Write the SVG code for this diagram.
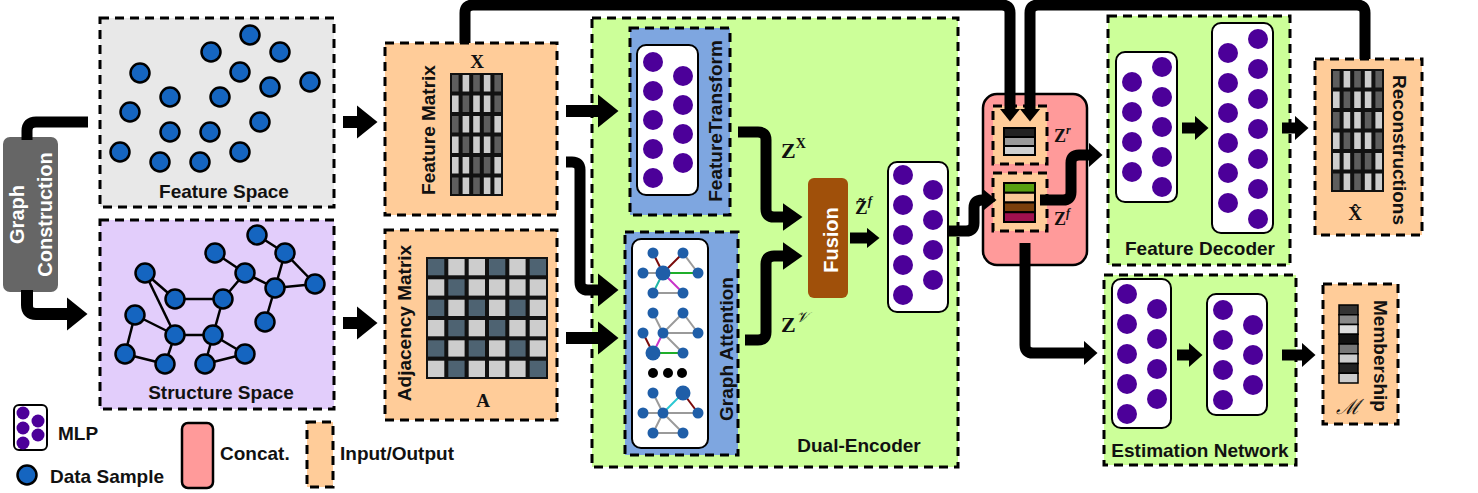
<svg xmlns="http://www.w3.org/2000/svg" width="1478" height="493" viewBox="0 0 1478 493">
<defs>
<style>
.dash{stroke:#000;stroke-width:3;stroke-dasharray:9 6}
.gray{fill:#e8e8e8}
.purp{fill:#e2cdfb}
.org{fill:#ffcc99}
.grn{fill:#ccff99}
.blu{fill:#7ea6e0}
.mlp{fill:#fff;stroke:#000;stroke-width:2}
.pd{fill:#4c0099}
.ds{fill:#1565c0;stroke:#000;stroke-width:2.5}
.lbl{font-family:"Liberation Sans",Arial,sans-serif;font-weight:bold;font-size:19px;fill:#111}
.wl{fill:#fff;font-size:20px}
.math{font-family:"Liberation Serif","Times New Roman",serif;font-weight:bold;fill:#111}
.cal{font-family:"DejaVu Serif","Liberation Serif",serif;font-style:italic;font-weight:normal}
.conn{fill:none;stroke:#000;stroke-width:11;stroke-linejoin:round}
.big{stroke-width:12}
.se{stroke:#000;stroke-width:2.5}
.ge{stroke-width:2}
.g{stroke:#9a9a9a}
.dr{stroke:#7a0a0a}
.gr{stroke:#1fae2a}
.tl{stroke:#1fb5a5}
.mg{stroke:#c832c8}
.cy{stroke:#2ac8d2}
.gn{fill:#1f5ea8}
.dk{fill:#5e5e5e}
.lt{fill:#cdcdcd}
.ad{fill:#4e6372}
</style>
<marker id="ahL" markerUnits="userSpaceOnUse" viewBox="0 0 21 34" markerWidth="21" markerHeight="34" refX="0.5" refY="17" orient="auto"><path d="M0,0 L21,17 L0,34 Z"/></marker>
<marker id="ahM" markerUnits="userSpaceOnUse" viewBox="0 0 20 28" markerWidth="20" markerHeight="28" refX="0.5" refY="14" orient="auto"><path d="M0,0 L20,14 L0,28 Z"/></marker>
<marker id="ahS" markerUnits="userSpaceOnUse" viewBox="0 0 14 25" markerWidth="14" markerHeight="25" refX="0.5" refY="12.5" orient="auto"><path d="M0,0 L14,12.5 L0,25 Z"/></marker>
<marker id="ahT" markerUnits="userSpaceOnUse" viewBox="0 0 13 21" markerWidth="13" markerHeight="21" refX="0.5" refY="10.5" orient="auto"><path d="M0,0 L13,10.5 L0,21 Z"/></marker>
<g id="fm">
<rect x="0" y="0" width="53" height="123" fill="#111"/>
<rect class="dk" x="2" y="2" width="6.6" height="16.5"/><rect class="lt" x="12.6" y="2" width="6.6" height="16.5"/><rect class="dk" x="23.2" y="2" width="6.6" height="16.5"/><rect class="lt" x="33.8" y="2" width="6.6" height="16.5"/><rect class="dk" x="44.4" y="2" width="6.6" height="16.5"/>
<rect class="lt" x="2" y="22.5" width="6.6" height="16.5"/><rect class="dk" x="12.6" y="22.5" width="6.6" height="16.5"/><rect class="lt" x="23.2" y="22.5" width="6.6" height="16.5"/><rect class="lt" x="33.8" y="22.5" width="6.6" height="16.5"/><rect class="dk" x="44.4" y="22.5" width="6.6" height="16.5"/>
<rect class="dk" x="2" y="43" width="6.6" height="16.5"/><rect class="lt" x="12.6" y="43" width="6.6" height="16.5"/><rect class="lt" x="23.2" y="43" width="6.6" height="16.5"/><rect class="dk" x="33.8" y="43" width="6.6" height="16.5"/><rect class="lt" x="44.4" y="43" width="6.6" height="16.5"/>
<rect class="lt" x="2" y="63.5" width="6.6" height="16.5"/><rect class="dk" x="12.6" y="63.5" width="6.6" height="16.5"/><rect class="lt" x="23.2" y="63.5" width="6.6" height="16.5"/><rect class="lt" x="33.8" y="63.5" width="6.6" height="16.5"/><rect class="dk" x="44.4" y="63.5" width="6.6" height="16.5"/>
<rect class="lt" x="2" y="84" width="6.6" height="16.5"/><rect class="lt" x="12.6" y="84" width="6.6" height="16.5"/><rect class="dk" x="23.2" y="84" width="6.6" height="16.5"/><rect class="dk" x="33.8" y="84" width="6.6" height="16.5"/><rect class="lt" x="44.4" y="84" width="6.6" height="16.5"/>
<rect class="dk" x="2" y="104.5" width="6.6" height="16.5"/><rect class="lt" x="12.6" y="104.5" width="6.6" height="16.5"/><rect class="dk" x="23.2" y="104.5" width="6.6" height="16.5"/><rect class="lt" x="33.8" y="104.5" width="6.6" height="16.5"/><rect class="lt" x="44.4" y="104.5" width="6.6" height="16.5"/>
</g>
</defs>
<rect width="1478" height="493" fill="#fff"/>

<g id="graph-construction">
<rect x="3" y="137" width="55" height="155" rx="7" fill="#666"/>
<g transform="translate(30.5,214.5) rotate(-90)">
<text class="lbl wl" x="0" y="-7" text-anchor="middle">Graph</text>
<text class="lbl wl" x="0" y="21" text-anchor="middle">Construction</text>
</g>
</g>

<g id="feature-space">
<rect class="gray dash" x="100" y="18" width="234" height="189"/>
<circle class="ds" cx="250" cy="35" r="9.5"/><circle class="ds" cx="211" cy="52" r="9.5"/><circle class="ds" cx="280" cy="52" r="9.5"/>
<circle class="ds" cx="140" cy="73" r="9.5"/><circle class="ds" cx="240" cy="72" r="9.5"/><circle class="ds" cx="310" cy="82" r="9.5"/>
<circle class="ds" cx="270" cy="87" r="9.5"/><circle class="ds" cx="170" cy="97" r="9.5"/><circle class="ds" cx="220" cy="97" r="9.5"/>
<circle class="ds" cx="130" cy="112" r="9.5"/><circle class="ds" cx="260" cy="122" r="9.5"/><circle class="ds" cx="170" cy="132" r="9.5"/>
<circle class="ds" cx="210" cy="132" r="9.5"/><circle class="ds" cx="120" cy="152" r="9.5"/><circle class="ds" cx="240" cy="152" r="9.5"/>
<circle class="ds" cx="160" cy="162" r="9.5"/><circle class="ds" cx="200" cy="162" r="9.5"/>
<text class="lbl" x="224" y="198" text-anchor="middle">Feature Space</text>
</g>

<g id="structure-space">
<rect class="purp dash" x="100" y="220" width="234" height="189"/>
<g class="se">
<line x1="257" y1="235" x2="285" y2="253"/><line x1="285" y1="253" x2="275" y2="288"/><line x1="285" y1="253" x2="315" y2="284"/>
<line x1="245" y1="273" x2="275" y2="288"/><line x1="215" y1="253" x2="245" y2="273"/><line x1="245" y1="273" x2="223" y2="299"/>
<line x1="275" y1="288" x2="315" y2="284"/><line x1="275" y1="288" x2="265" y2="322"/><line x1="145" y1="273" x2="175" y2="299"/>
<line x1="175" y1="299" x2="223" y2="299"/><line x1="223" y1="299" x2="213" y2="335"/><line x1="145" y1="273" x2="175" y2="335"/>
<line x1="135" y1="315" x2="175" y2="335"/><line x1="135" y1="315" x2="125" y2="354"/><line x1="125" y1="354" x2="165" y2="364"/>
<line x1="175" y1="335" x2="213" y2="335"/><line x1="175" y1="335" x2="165" y2="364"/><line x1="213" y1="335" x2="205" y2="364"/>
<line x1="213" y1="335" x2="245" y2="354"/><line x1="205" y1="364" x2="245" y2="354"/>
</g>
<circle class="ds" cx="257" cy="235" r="9.5"/><circle class="ds" cx="285" cy="253" r="9.5"/><circle class="ds" cx="215" cy="253" r="9.5"/>
<circle class="ds" cx="245" cy="273" r="9.5"/><circle class="ds" cx="145" cy="273" r="9.5"/><circle class="ds" cx="275" cy="288" r="9.5"/>
<circle class="ds" cx="315" cy="284" r="9.5"/><circle class="ds" cx="175" cy="299" r="9.5"/><circle class="ds" cx="223" cy="299" r="9.5"/>
<circle class="ds" cx="135" cy="315" r="9.5"/><circle class="ds" cx="265" cy="322" r="9.5"/><circle class="ds" cx="175" cy="335" r="9.5"/>
<circle class="ds" cx="213" cy="335" r="9.5"/><circle class="ds" cx="245" cy="354" r="9.5"/><circle class="ds" cx="125" cy="354" r="9.5"/>
<circle class="ds" cx="165" cy="364" r="9.5"/><circle class="ds" cx="205" cy="364" r="9.5"/>
<text class="lbl" x="221" y="399" text-anchor="middle">Structure Space</text>
</g>

<g id="feature-matrix">
<rect class="org dash" x="385" y="43" width="172" height="172"/>
<text class="math" x="477" y="68" font-size="19" text-anchor="middle">X</text>
<use href="#fm" x="450" y="73"/>
<text class="lbl" transform="translate(435,130) rotate(-90)" text-anchor="middle">Feature Matrix</text>
</g>

<g id="adjacency-matrix">
<rect class="org dash" x="385" y="230" width="172" height="190"/>
<g transform="translate(426,257)">
<rect x="0" y="0" width="122" height="122" fill="#111"/>
<rect class="ad" x="2" y="2" width="16.3" height="16.3"/><rect class="lt" x="22.3" y="2" width="16.3" height="16.3"/><rect class="lt" x="42.7" y="2" width="16.3" height="16.3"/><rect class="ad" x="63" y="2" width="16.3" height="16.3"/><rect class="lt" x="83.3" y="2" width="16.3" height="16.3"/><rect class="ad" x="103.7" y="2" width="16.3" height="16.3"/>
<rect class="lt" x="2" y="22.3" width="16.3" height="16.3"/><rect class="ad" x="22.3" y="22.3" width="16.3" height="16.3"/><rect class="lt" x="42.7" y="22.3" width="16.3" height="16.3"/><rect class="lt" x="63" y="22.3" width="16.3" height="16.3"/><rect class="lt" x="83.3" y="22.3" width="16.3" height="16.3"/><rect class="lt" x="103.7" y="22.3" width="16.3" height="16.3"/>
<rect class="ad" x="2" y="42.7" width="16.3" height="16.3"/><rect class="lt" x="22.3" y="42.7" width="16.3" height="16.3"/><rect class="ad" x="42.7" y="42.7" width="16.3" height="16.3"/><rect class="lt" x="63" y="42.7" width="16.3" height="16.3"/><rect class="ad" x="83.3" y="42.7" width="16.3" height="16.3"/><rect class="lt" x="103.7" y="42.7" width="16.3" height="16.3"/>
<rect class="lt" x="2" y="63" width="16.3" height="16.3"/><rect class="ad" x="22.3" y="63" width="16.3" height="16.3"/><rect class="lt" x="42.7" y="63" width="16.3" height="16.3"/><rect class="ad" x="63" y="63" width="16.3" height="16.3"/><rect class="lt" x="83.3" y="63" width="16.3" height="16.3"/><rect class="lt" x="103.7" y="63" width="16.3" height="16.3"/>
<rect class="ad" x="2" y="83.3" width="16.3" height="16.3"/><rect class="lt" x="22.3" y="83.3" width="16.3" height="16.3"/><rect class="ad" x="42.7" y="83.3" width="16.3" height="16.3"/><rect class="lt" x="63" y="83.3" width="16.3" height="16.3"/><rect class="ad" x="83.3" y="83.3" width="16.3" height="16.3"/><rect class="lt" x="103.7" y="83.3" width="16.3" height="16.3"/>
<rect class="lt" x="2" y="103.7" width="16.3" height="16.3"/><rect class="ad" x="22.3" y="103.7" width="16.3" height="16.3"/><rect class="lt" x="42.7" y="103.7" width="16.3" height="16.3"/><rect class="lt" x="63" y="103.7" width="16.3" height="16.3"/><rect class="lt" x="83.3" y="103.7" width="16.3" height="16.3"/><rect class="ad" x="103.7" y="103.7" width="16.3" height="16.3"/>
</g>
<text class="math" x="483" y="407" font-size="19" text-anchor="middle">A</text>
<text class="lbl" transform="translate(411,323) rotate(-90)" text-anchor="middle">Adjacency Matrix</text>
</g>

<g id="dual-encoder">
<rect class="grn dash" x="592" y="18" width="366" height="449"/>
<text class="lbl" x="859" y="452" text-anchor="middle">Dual-Encoder</text>
</g>

<g id="feature-transform">
<rect class="blu dash" x="630" y="28" width="100" height="187"/>
<rect class="mlp" x="637" y="45" width="61" height="150" rx="9"/>
<circle class="pd" cx="653" cy="62" r="10"/><circle class="pd" cx="653" cy="91" r="10"/><circle class="pd" cx="653" cy="120" r="10"/><circle class="pd" cx="653" cy="149" r="10"/><circle class="pd" cx="653" cy="178" r="10"/>
<circle class="pd" cx="683" cy="76" r="10"/><circle class="pd" cx="683" cy="105" r="10"/><circle class="pd" cx="683" cy="134" r="10"/><circle class="pd" cx="683" cy="163" r="10"/>
<text class="lbl" transform="translate(722,121) rotate(-90)" text-anchor="middle" font-size="19.5">FeatureTransform</text>
</g>

<g id="graph-attention">
<rect class="blu dash" x="625" y="232" width="113" height="223"/>
<rect class="mlp" x="632" y="239" width="76" height="209" rx="9"/>
<g class="ge">
<line class="dr" x1="653" y1="253" x2="663" y2="273"/><line class="dr" x1="683" y1="253" x2="663" y2="273"/><line class="g" x1="683" y1="253" x2="698" y2="273"/>
<line class="g" x1="643" y1="273" x2="663" y2="273"/><line class="gr" x1="663" y1="273" x2="698" y2="273"/><line class="tl" x1="663" y1="273" x2="653" y2="293"/>
<line class="mg" x1="663" y1="273" x2="683" y2="293"/><line class="g" x1="653" y1="293" x2="683" y2="293"/>
<line class="g" x1="653" y1="313" x2="663" y2="333"/><line class="g" x1="683" y1="313" x2="663" y2="333"/><line class="g" x1="683" y1="313" x2="698" y2="333"/>
<line class="g" x1="663" y1="333" x2="698" y2="333"/><line class="dr" x1="643" y1="333" x2="653" y2="353"/><line class="mg" x1="663" y1="333" x2="653" y2="353"/>
<line class="g" x1="663" y1="333" x2="683" y2="353"/><line class="gr" x1="653" y1="353" x2="683" y2="353"/>
<line class="g" x1="653" y1="393" x2="663" y2="413"/><line class="cy" x1="683" y1="393" x2="663" y2="413"/><line class="dr" x1="683" y1="393" x2="698" y2="413"/>
<line class="g" x1="643" y1="413" x2="663" y2="413"/><line class="g" x1="663" y1="413" x2="698" y2="413"/><line class="g" x1="663" y1="413" x2="653" y2="433"/>
<line class="g" x1="663" y1="413" x2="683" y2="433"/><line class="g" x1="653" y1="433" x2="683" y2="433"/>
</g>
<g class="gn">
<circle cx="653" cy="253" r="5.5"/><circle cx="683" cy="253" r="5.5"/><circle cx="643" cy="273" r="5.5"/><circle cx="663" cy="273" r="7.5"/><circle cx="698" cy="273" r="5.5"/><circle cx="653" cy="293" r="5.5"/><circle cx="683" cy="293" r="5.5"/>
<circle cx="653" cy="313" r="5.5"/><circle cx="683" cy="313" r="5.5"/><circle cx="643" cy="333" r="5.5"/><circle cx="663" cy="333" r="5.5"/><circle cx="698" cy="333" r="5.5"/><circle cx="653" cy="353" r="7.5"/><circle cx="683" cy="353" r="5.5"/>
<circle cx="653" cy="393" r="5.5"/><circle cx="683" cy="393" r="7.5"/><circle cx="643" cy="413" r="5.5"/><circle cx="663" cy="413" r="5.5"/><circle cx="698" cy="413" r="5.5"/><circle cx="653" cy="433" r="5.5"/><circle cx="683" cy="433" r="5.5"/>
</g>
<circle cx="653" cy="373" r="5" fill="#000"/><circle cx="668" cy="373" r="5" fill="#000"/><circle cx="682" cy="373" r="5" fill="#000"/>
<text class="lbl" transform="translate(733,349) rotate(-90)" text-anchor="middle">Graph Attention</text>
</g>

<g id="fusion">
<rect x="808" y="178" width="40" height="120" rx="6" fill="#a0500a"/>
<text class="lbl wl" transform="translate(838,240) rotate(-90)" text-anchor="middle">Fusion</text>
</g>

<g id="labels-encoder">
<text class="math" x="781" y="158" font-size="22">Z<tspan font-size="14" dy="-10">X</tspan></text>
<text class="math" x="781" y="332" font-size="22">Z<tspan class="cal" font-size="15" dy="-10">𝒱</tspan></text>
<text class="math" x="855" y="214" font-size="19">Z̃<tspan font-size="13" font-style="italic" dy="-9">f</tspan></text>
</g>

<g id="fused-mlp">
<rect class="mlp" x="888" y="162" width="60" height="150" rx="9"/>
<circle class="pd" cx="903" cy="175" r="10"/><circle class="pd" cx="903" cy="205" r="10"/><circle class="pd" cx="903" cy="235" r="10"/><circle class="pd" cx="903" cy="265" r="10"/><circle class="pd" cx="903" cy="295" r="10"/>
<circle class="pd" cx="933" cy="190" r="10"/><circle class="pd" cx="933" cy="220" r="10"/><circle class="pd" cx="933" cy="250" r="10"/><circle class="pd" cx="933" cy="280" r="10"/>
</g>

<g id="concat">
<rect x="983" y="94" width="104" height="171" rx="14" fill="#ff9a9a" stroke="#000" stroke-width="2.5"/>
<rect class="org dash" x="993" y="106" width="54" height="58"/>
<rect class="org dash" x="993" y="173" width="54" height="58"/>
<g stroke="#000" stroke-width="2">
<rect x="1004" y="128" width="31" height="9" fill="#222"/>
<rect x="1004" y="137" width="31" height="9" fill="#9a9a9a"/>
<rect x="1004" y="146" width="31" height="9" fill="#d0d0d0"/>
<rect x="1004" y="183" width="31" height="9.75" fill="#58a010"/>
<rect x="1004" y="192.75" width="31" height="9.75" fill="#f9c897"/>
<rect x="1004" y="202.5" width="31" height="9.75" fill="#7b3f0c"/>
<rect x="1004" y="212.25" width="31" height="9.75" fill="#a0104e"/>
</g>
<text class="math" x="1054" y="142" font-size="18">Z<tspan font-size="12" font-style="italic" dy="-8">r</tspan></text>
<text class="math" x="1054" y="225" font-size="18">Z<tspan font-size="12" font-style="italic" dy="-8">f</tspan></text>
</g>

<g id="feature-decoder">
<rect class="grn dash" x="1108" y="16" width="182" height="249"/>
<rect class="mlp" x="1116" y="52" width="61" height="150" rx="9"/>
<circle class="pd" cx="1132" cy="82" r="10"/><circle class="pd" cx="1132" cy="112" r="10"/><circle class="pd" cx="1132" cy="142" r="10"/><circle class="pd" cx="1132" cy="172" r="10"/>
<circle class="pd" cx="1162" cy="67" r="10"/><circle class="pd" cx="1162" cy="97" r="10"/><circle class="pd" cx="1162" cy="127" r="10"/><circle class="pd" cx="1162" cy="157" r="10"/><circle class="pd" cx="1162" cy="187" r="10"/>
<rect class="mlp" x="1212" y="23" width="61" height="210" rx="9"/>
<circle class="pd" cx="1228" cy="53" r="10"/><circle class="pd" cx="1228" cy="83" r="10"/><circle class="pd" cx="1228" cy="113" r="10"/><circle class="pd" cx="1228" cy="143" r="10"/><circle class="pd" cx="1228" cy="173" r="10"/><circle class="pd" cx="1228" cy="203" r="10"/>
<circle class="pd" cx="1258" cy="39" r="10"/><circle class="pd" cx="1258" cy="69" r="10"/><circle class="pd" cx="1258" cy="99" r="10"/><circle class="pd" cx="1258" cy="129" r="10"/><circle class="pd" cx="1258" cy="159" r="10"/><circle class="pd" cx="1258" cy="189" r="10"/><circle class="pd" cx="1258" cy="219" r="10"/>
<text class="lbl" x="1200" y="255" text-anchor="middle" font-size="19.5">Feature Decoder</text>
</g>

<g id="reconstructions">
<rect class="org dash" x="1315" y="59" width="107" height="176"/>
<use href="#fm" x="1331" y="69"/>
<text class="math" x="1355" y="220" font-size="19" text-anchor="middle">X̂</text>
<text class="lbl" transform="translate(1393,150) rotate(90)" text-anchor="middle" font-size="20">Reconstructions</text>
</g>

<g id="estimation-network">
<rect class="grn dash" x="1104" y="275" width="192" height="190"/>
<rect class="mlp" x="1112" y="279" width="59" height="149" rx="9"/>
<circle class="pd" cx="1127" cy="294" r="10"/><circle class="pd" cx="1127" cy="324" r="10"/><circle class="pd" cx="1127" cy="354" r="10"/><circle class="pd" cx="1127" cy="384" r="10"/><circle class="pd" cx="1127" cy="414" r="10"/>
<circle class="pd" cx="1157" cy="309" r="10"/><circle class="pd" cx="1157" cy="339" r="10"/><circle class="pd" cx="1157" cy="369" r="10"/><circle class="pd" cx="1157" cy="399" r="10"/>
<rect class="mlp" x="1207" y="294" width="60" height="121" rx="9"/>
<circle class="pd" cx="1223" cy="310" r="10"/><circle class="pd" cx="1223" cy="340" r="10"/><circle class="pd" cx="1223" cy="370" r="10"/><circle class="pd" cx="1223" cy="400" r="10"/>
<circle class="pd" cx="1253" cy="325" r="10"/><circle class="pd" cx="1253" cy="355" r="10"/><circle class="pd" cx="1253" cy="385" r="10"/>
<text class="lbl" x="1200" y="457" text-anchor="middle" font-size="18">Estimation Network</text>
</g>

<g id="membership">
<rect class="org dash" x="1323" y="284" width="75" height="140"/>
<g stroke="#000" stroke-width="1.5">
<rect x="1339" y="305" width="19" height="9.75" fill="#333"/>
<rect x="1339" y="314.75" width="19" height="9.75" fill="#888"/>
<rect x="1339" y="324.5" width="19" height="9.75" fill="#ddd"/>
<rect x="1339" y="334.25" width="19" height="9.75" fill="#111"/>
<rect x="1339" y="344" width="19" height="9.75" fill="#777"/>
<rect x="1339" y="353.75" width="19" height="9.75" fill="#ccc"/>
<rect x="1339" y="363.5" width="19" height="9.75" fill="#222"/>
<rect x="1339" y="373.25" width="19" height="9.75" fill="#ccc"/>
</g>
<text class="math cal" x="1348" y="414" font-size="21" text-anchor="middle">ℳ</text>
<text class="lbl" transform="translate(1374,356) rotate(90)" text-anchor="middle">Membership</text>
</g>

<g id="legend">
<rect class="mlp" x="14" y="405" width="33" height="45" rx="5"/>
<circle class="pd" cx="23" cy="413" r="6.5"/><circle class="pd" cx="38" cy="421" r="6.5"/><circle class="pd" cx="23" cy="428" r="6.5"/><circle class="pd" cx="38" cy="435" r="6.5"/><circle class="pd" cx="23" cy="443" r="6.5"/>
<text class="lbl" x="58" y="440">MLP</text>
<circle class="ds" cx="27" cy="475" r="9.5"/>
<text class="lbl" x="50" y="483">Data Sample</text>
<rect x="182" y="423" width="31" height="65" rx="6" fill="#ff9a9a" stroke="#000" stroke-width="2.5"/>
<text class="lbl" x="220" y="460">Concat.</text>
<rect class="org dash" x="307" y="422" width="26" height="65"/>
<text class="lbl" x="340" y="460">Input/Output</text>
</g>

<g id="connectors">
<path class="conn" d="M27,140 L27,131 Q27,122 36,122 L88,122"/>
<path class="conn big" d="M27,290 L27,305 Q27,314 36,314 L67,314" marker-end="url(#ahL)"/>
<path class="conn big" d="M343,122 L357,122" marker-end="url(#ahL)"/>
<path class="conn big" d="M343,323 L357,323" marker-end="url(#ahL)"/>
<path class="conn big" d="M566,111 L598,111" marker-end="url(#ahL)"/>
<path class="conn" d="M566,162 L572,162 Q580,162 580,170 L580,282 Q580,290 588,290 L598,290" marker-end="url(#ahL)"/>
<path class="conn big" d="M566,338 L598,338" marker-end="url(#ahL)"/>
<path class="conn" d="M738,132 L758,132 Q766,132 766,140 L766,209 Q766,217 774,217 L783,217" marker-end="url(#ahM)"/>
<path class="conn" d="M745,340 L758,340 Q766,340 766,332 L766,264 Q766,256 774,256 L783,256" marker-end="url(#ahM)"/>
<path class="conn" d="M850,238 L867,238" marker-end="url(#ahT)"/>
<path class="conn" d="M948,231 L966,231 Q974,231 974,223 L974,208 Q974,200 982,200 L984,200" marker-end="url(#ahT)"/>
<path class="conn" d="M465,43 L465,13 Q465,5 473,5 L1002,5 Q1010,5 1010,13 L1010,109" marker-end="url(#ahT)"/>
<path class="conn" d="M1365,59 L1365,13 Q1365,5 1357,5 L1038,5 Q1030,5 1030,13 L1030,109" marker-end="url(#ahT)"/>
<path class="conn" d="M1040,200 L1063,200 Q1071,200 1071,192 L1071,163 Q1071,155 1079,155 L1089,155" marker-end="url(#ahS)"/>
<path class="conn" d="M1025,243 L1025,345 Q1025,353 1033,353 L1084,353" marker-end="url(#ahS)"/>
<path class="conn" d="M1182,128 L1195,128" marker-end="url(#ahS)"/>
<path class="conn" d="M1282,128 L1295,128" marker-end="url(#ahS)"/>
<path class="conn" d="M1177,355 L1189,355" marker-end="url(#ahS)"/>
<path class="conn" d="M1282,355 L1302,355" marker-end="url(#ahS)"/>
</g>
</svg>
